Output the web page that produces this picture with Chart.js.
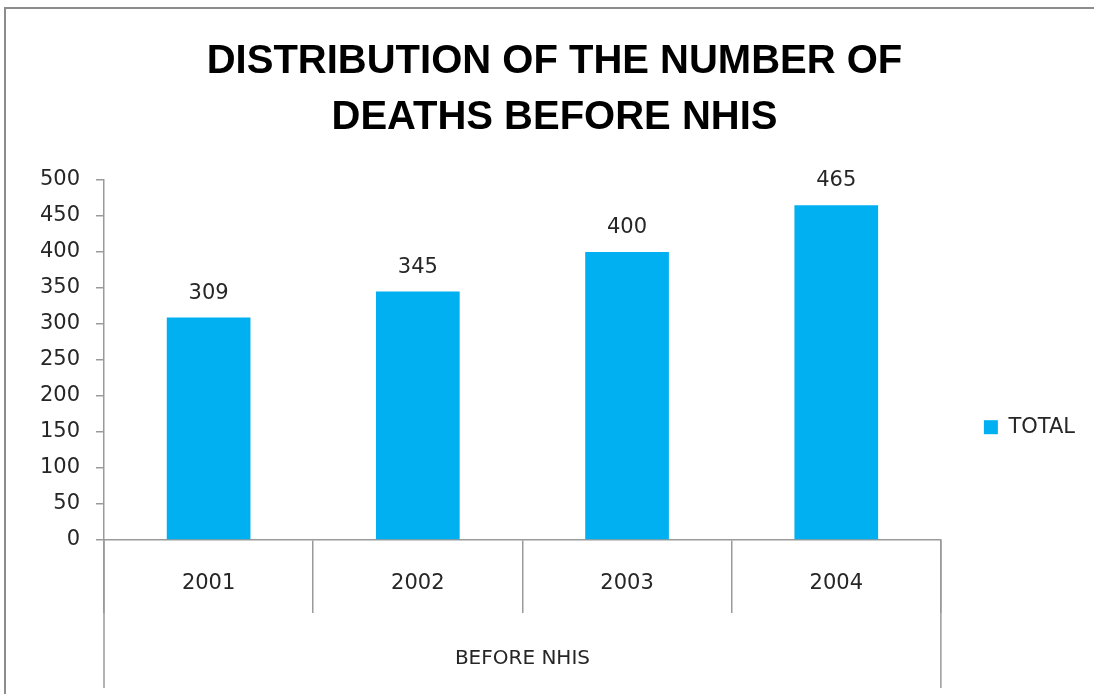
<!DOCTYPE html>
<html>
<head>
<meta charset="utf-8">
<script src="https://cdn.jsdelivr.net/npm/chart.js"></script>
<style>
html, body { margin: 0; padding: 0; background: #fff; }
#box { position: relative; width: 1094px; height: 694px; overflow: hidden; }
#cornice { position: absolute; left: 4px; top: 7px; width: 1200px; height: 800px; border-left: 2px solid #8c8c8c; border-top: 2px solid #8c8c8c; }
canvas { position: absolute; left: 0; top: 0; }
</style>
</head>
<body>
<div id="box">
    <div id="cornice"></div>
    <canvas id="grafico" width="1094" height="694"></canvas>
</div>
<script>
// dati
var anni = ['2001', '2002', '2003', '2004'];
var totali = [309, 345, 400, 465];
var tickY = [0, 50, 100, 150, 200, 250, 300, 350, 400, 450, 500];
var titolo = ['DISTRIBUTION OF THE NUMBER OF', 'DEATHS BEFORE NHIS'];
var gruppo = 'BEFORE NHIS';
var serie = 'TOTAL';

var grigio = '#9a9a9a';
var testo = '#262626';

Chart.defaults.font.family = '"DejaVu Sans", sans-serif';

// numeri sopra le barre
var etichette = {
    id: 'etichette',
    afterDatasetsDraw: function(chart) {
        var ctx = chart.ctx;
        var meta = chart.getDatasetMeta(0);
        ctx.save();
        ctx.font = '21px "DejaVu Sans"';
        ctx.fillStyle = testo;
        ctx.textAlign = 'center';
        ctx.textBaseline = 'alphabetic';
        meta.data.forEach(function(bar, i) {
            ctx.fillText(totali[i], bar.x, bar.y - 19);
        });
        ctx.restore();
    }
};

// le due linee laterali che chiudono il gruppo "BEFORE NHIS"
var bordiGruppo = {
    id: 'bordiGruppo',
    afterDraw: function(chart) {
        var x = chart.scales.x;
        var ctx = chart.ctx;
        ctx.save();
        ctx.strokeStyle = grigio;
        ctx.lineWidth = 1.5;
        ctx.beginPath();
        ctx.moveTo(x.left, x.top);
        ctx.lineTo(x.left, x.bottom);
        ctx.moveTo(x.right, x.top);
        ctx.lineTo(x.right, x.bottom);
        ctx.stroke();
        ctx.restore();
    }
};

var ctx = document.getElementById('grafico');
var chart = new Chart(ctx, {
    type: 'bar',
    data: {
        labels: anni,
        datasets: [{
            label: serie,
            data: totali,
            backgroundColor: '#00b0f0',
            borderWidth: 0,
            barPercentage: 0.4,
            categoryPercentage: 1
        }]
    },
    options: {
        responsive: false,
        animation: false,
        devicePixelRatio: 1,
        layout: { padding: { left: 24, right: 9, top: 0, bottom: 6 } },
        plugins: {
            title: {
                display: true,
                text: titolo,
                color: '#000',
                font: { family: '"Liberation Sans", sans-serif', size: 40, weight: 'bold', lineHeight: 1.4 },
                padding: { top: 34, bottom: 34 }
            },
            legend: {
                position: 'right',
                // titolo vuoto solo per abbassare la legenda come nell'originale
                title: { display: true, text: ' ', padding: { top: 0, bottom: 152 } },
                labels: {
                    boxWidth: 14,
                    boxHeight: 14,
                    padding: 43,
                    color: testo,
                    font: { size: 21 }
                }
            },
            tooltip: { enabled: false }
        },
        scales: {
            x: {
                grid: { offset: true, drawOnChartArea: false, drawTicks: true, tickLength: 73, color: grigio, lineWidth: 1.5 },
                border: { color: grigio, width: 1.5 },
                ticks: { padding: -42, color: testo, font: { size: 21 } },
                title: { display: true, text: gruppo, color: testo, font: { size: 20 }, padding: { top: 0, bottom: 17 } },
                afterFit: function(s) { s.height = 148; }
            },
            y: {
                min: 0,
                max: 500,
                grid: { drawOnChartArea: false, drawTicks: true, tickLength: 8, color: grigio, lineWidth: 1.5 },
                border: { color: grigio, width: 1.5 },
                ticks: { padding: 16, color: testo, font: { size: 21 } },
                afterBuildTicks: function(s) {
                    s.ticks = tickY.map(function(v) { return { value: v }; });
                },
                afterFit: function(s) { s.width = 80; }
            }
        }
    },
    plugins: [etichette, bordiGruppo]
});
</script>
</body>
</html>
